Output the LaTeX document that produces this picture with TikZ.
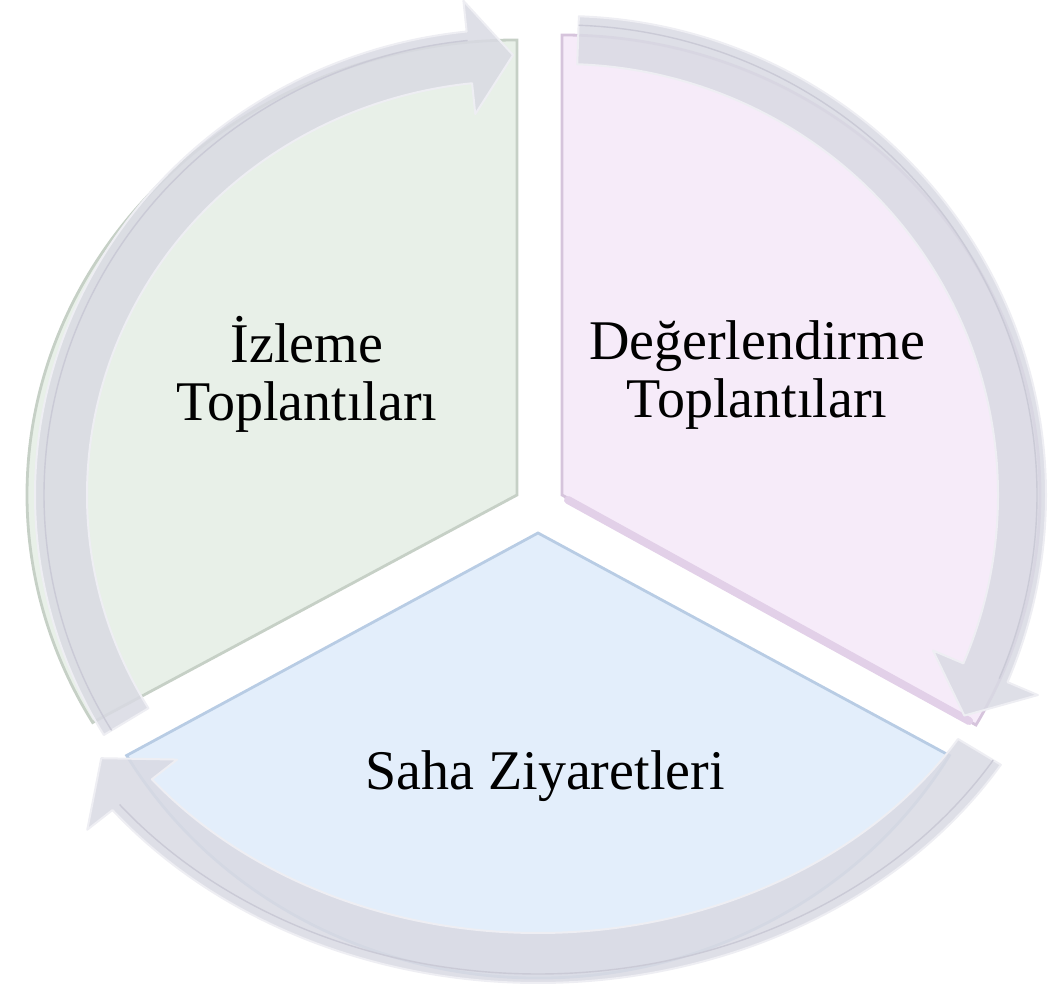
\documentclass[tikz,border=0pt]{standalone}
\usepackage{fontspec}
\setmainfont{Liberation Serif}
\usetikzlibrary{calc}

\definecolor{izlemegreen}{RGB}{232,240,232}
\definecolor{izlemeedge}{RGB}{198,208,198}
\definecolor{degerpink}{RGB}{246,235,249}
\definecolor{degeredge}{RGB}{214,196,220}
\definecolor{degershade}{RGB}{226,208,232}
\definecolor{sahablue}{RGB}{227,238,251}
\definecolor{sahaedge}{RGB}{184,204,228}
\definecolor{bandgray}{RGB}{217,218,227}
\definecolor{bandedge}{RGB}{238,238,243}
\definecolor{bandline}{RGB}{202,202,214}

\tikzset{
  sector/.style={line width=1.4pt},
  band/.style={fill=bandgray, fill opacity=0.86, draw=bandedge, line width=1pt, line join=round},
  bevel/.style={draw=bandline, line width=0.7pt},
  phase/.style={font=\fontsize{28}{29}\selectfont, align=center, text=black}
}

\begin{document}
\begin{tikzpicture}[x=0.5pt, y=0.5pt]
  \useasboundingbox (0,0) rectangle (1048,988);

  % the three segments
  \filldraw[sector, fill=izlemegreen, draw=izlemeedge] (517,493) -- +(90:490 and 455)
     arc[start angle=90, end angle=210, x radius=490, y radius=455] -- cycle;
  \filldraw[sector, fill=degerpink, draw=degeredge] (562,493) -- +(90:478 and 460)
     arc[start angle=90, end angle=-30, x radius=478, y radius=460] -- cycle;
  \draw[degershade, line width=4pt, line cap=round] ($(562,493)+(-30:470 and 452)$) -- (568,488);
  \filldraw[sector, fill=sahablue, draw=sahaedge] (538,455) -- +(210:475 and 445)
     arc[start angle=210, end angle=330, x radius=475, y radius=445] -- cycle;

  % circular arrows: centre / radii / half width / tail, head base, tip angle
  \foreach \cx/\cy/\rx/\ry/\hw/\ta/\tb/\tp in
      {517/493/456/440/26/211/96/90.5,
       562/493/460/455/24/88/-23/-29,
       538/455/515/425/25/-31/-142/-148}{
    \pgfmathsetmacro{\rxo}{\rx+\hw}
    \pgfmathsetmacro{\ryo}{\ry+\hw}
    \pgfmathsetmacro{\rxi}{\rx-\hw}
    \pgfmathsetmacro{\ryi}{\ry-\hw}
    \pgfmathsetmacro{\rxb}{\rx+57}
    \pgfmathsetmacro{\ryb}{\ry+57}
    \pgfmathsetmacro{\rxc}{\rx-57}
    \pgfmathsetmacro{\ryc}{\ry-57}
    \pgfmathsetmacro{\rxl}{\rx+\hw-9}
    \pgfmathsetmacro{\ryl}{\ry+\hw-9}
    \filldraw[band] ($(\cx,\cy)+(\ta:{\rxo} and {\ryo})$)
       arc[start angle=\ta, end angle=\tb, x radius=\rxo, y radius=\ryo]
       -- ($(\cx,\cy)+(\tb:{\rxb} and {\ryb})$)
       -- ($(\cx,\cy)+(\tp:{\rx} and {\ry})$)
       -- ($(\cx,\cy)+(\tb:{\rxc} and {\ryc})$)
       -- ($(\cx,\cy)+(\tb:{\rxi} and {\ryi})$)
       arc[start angle=\tb, end angle=\ta, x radius=\rxi, y radius=\ryi]
       -- cycle;
    \draw[bevel] ($(\cx,\cy)+(\ta:{\rxl} and {\ryl})$)
       arc[start angle=\ta, end angle=\tb, x radius=\rxl, y radius=\ryl];
  }

  % labels
  \node[phase] (izleme) at (307,614) {İzleme\\Toplantıları};
  \node[phase] (degerlendirme) at (757,613) {Değerlendirme\\Toplantıları};
  \node[phase] (saha) at (545,212) {Saha Ziyaretleri};
\end{tikzpicture}
\end{document}
